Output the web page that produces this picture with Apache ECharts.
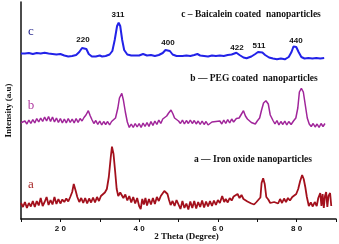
<!DOCTYPE html>
<html>
<head>
<meta charset="utf-8">
<script src="https://cdn.jsdelivr.net/npm/echarts@6/dist/echarts.min.js"></script>
<style>html,body{margin:0;padding:0;background:#fff}#chart{width:339px;height:244px}</style>
</head>
<body>
<div id="chart"></div>
<script>
// 2 Theta (degree) and intensity (a.u.)
const thetaC = [10,11,12,13,14,15,16,17,18,19,20,21,22,23,24,24.8,25.5,26,26.6,27.2,28,29,30,30.6,31.5,32.5,33.2,33.8,34.4,34.8,35.2,35.7,36.2,37,38,39,40,41,42,43,44,45,46,46.7,47.2,47.8,48.5,49.5,50,51,52,53,54,54.8,55.5,56.5,57.5,58.5,59.5,60.5,61.5,62.5,63.5,64.7,65.5,66.5,67.3,68.5,69.5,70.2,70.7,71.3,72,73,74,75,76,77,78,78.7,79.2,79.5,79.9,80.5,81.2,82,83,84,85,86,87];
const intensityC = [165.5,165.5,166,165,166,165.5,166.2,165.5,165,164.5,165,163.5,162.5,163,164,167,171,171.7,170,165,162.5,162.5,163.5,162.5,163,164.5,168,179,193,196.3,193,179,169,164.5,163.5,163.5,163.5,165,163.5,164,163,164,166,169,169.7,168,164.5,163,163,163,163.5,163,164,165,163.5,163,162.5,163.5,163,163.5,163,164,164.5,166.3,164,161.5,160.7,162.5,165,167,167.7,166.5,164,161.5,160.5,159.7,160.5,159.7,162,167,172.5,173,172,167,162,160.5,161,160.5,161,160.5,161];

const thetaB = [10,10.5,11,11.5,12,12.5,13,13.5,14,14.5,15,15.5,16,16.5,17,17.5,18,18.5,19,19.5,20,20.5,21,21.5,22,22.5,23,23.5,24,24.5,25,25.5,26,26.5,27.1,27.6,28,28.5,29,29.5,30,30.5,31,31.5,32,32.5,33,33.5,34,34.6,35,35.6,36,36.5,37,37.5,38,38.5,39,39.5,40,40.5,41,41.5,42,42.5,43,43.5,44,44.5,45,45.5,46,46.5,47,47.5,48.1,48.6,49,49.5,50,50.5,51,51.5,52,52.5,53,53.5,54,54.5,55,55.5,56,56.5,57,57.5,58,58.5,59,59.5,60,60.5,61,61.5,62,62.5,63,63.5,64,64.7,65.4,66,66.5,67,67.5,68,68.5,69,69.5,70,70.6,71.1,71.6,72.2,72.8,73.3,74,74.5,75,75.5,76,76.5,77,77.5,78,78.6,79.2,79.8,80.3,80.7,81.2,81.7,82.2,82.7,83.2,83.7,84.2,84.7,85.2,85.7,86.2,86.7,87.2];
const intensityB = [96.3,94.5,98,95,99,95.5,99.5,96,100.5,97,101,97.5,102,98,102.5,97.5,102,97,101,96.5,100.5,96,100,96,100.5,96.5,100,96,100.5,96.5,100.5,98,101.5,104,108.3,103,99.5,95.5,98.5,94.5,98,94,97.5,94.5,97.5,94,97.5,96.5,101,111,121,125.7,119,107,97,91.5,95,91.5,95.5,92,95.5,91.5,96,92.5,96.5,92.5,97.5,93.5,98,94.5,99,95.5,100,101,103,106,109,105,101,99,98,95.5,99,95,98.5,95.5,99,95.5,98.5,95,98,94.5,98,94.5,97.5,94,93.5,97,95,97.5,95.5,98,95,99,95.5,99.5,96,100,97,100.5,101,105,108.3,103,100,98.5,96.5,97.5,95,98,101,109,116,118.3,115,104,98.5,95,98.5,94,97.5,94.5,98,94,97.5,94.5,98,101,111,127,130.7,127,114,101,95,92.5,95.5,92,95,91.5,95.5,92.5,95.5,92.5,95.5];

const thetaA = [10,10.5,11,11.5,12,12.5,13,13.5,14,14.5,15,15.5,16,16.5,17,17.5,18,18.5,19,19.5,20,20.5,21,21.5,22,22.5,23,23.4,23.9,24.3,24.8,25.3,25.8,26.3,26.8,27.3,27.8,28.3,28.8,29.3,29.8,30.3,30.8,31.3,31.8,32.3,32.8,33.1,33.5,33.9,34.3,34.7,35.2,35.6,36,36.5,37,37.5,38,38.5,39,39.5,40,40.4,40.8,41.2,41.6,42,42.5,43,43.5,44,44.5,45,45.5,46,46.4,46.8,47.2,47.6,48,48.5,49,49.5,50,50.5,51,51.5,52,52.5,53,53.5,54,54.5,55,55.5,56,56.5,57,57.5,58,58.5,59,59.5,60,60.5,61.1,61.6,62,62.5,63,63.5,64,64.5,65,65.5,66,66.5,67,67.5,68,68.5,69.2,69.8,70.3,70.8,71.1,71.5,71.9,72.3,72.8,73.3,73.8,74.3,74.8,75.3,75.8,76.3,76.8,77.3,77.8,78.3,78.9,79.4,79.9,80.4,80.9,81.4,81.8,82.2,82.6,83.1,83.6,84.1,84.6,85.1,85.5,86,86.3,86.6,86.9,87.2,87.5,87.8,88.1,88.5,88.8];
const intensityA = [16,12,17,11,16,12.5,18,12,18,13.5,21,13,17,22,14,19,14.5,22,15,20,15.5,19.5,17,20.5,17.5,22,27,35,28,22,17,21,16,21,15.5,20.5,16.5,21.5,16.5,22,18,23,25,26.5,30,42,62,72.3,65,48,30,23,26.5,28,21,24.5,18.5,23,16.5,22,15.5,21,13,10,20,14.5,21,13.5,20,14.5,21,15,22,18,23,24,28,30,25,19,14,18,13,19,17,10,18,11,15.5,9.5,17.5,11,18,10.5,17,12,18.5,11.5,17.5,12.5,18,13,18.5,14,19,16,23,17,20,16.5,21,18.5,22.5,21,25,21,24,20,21,17.5,18.5,15.5,14.5,17,16,21.5,36,40.7,35,22,19.5,16,14.5,17,19,15.5,20,16,20.5,17,21,18.5,22,22,25,30,38,44,40,32,22,13,16.5,12.5,17,13,21,26,13,25,11,23,27,12,23,26,13];

const xTickLabels = [20, 40, 60, 80];

function pairs(xs, ys) { return xs.map((x, i) => [x, ys[i]]); }

const chart = echarts.init(document.getElementById('chart'), null, {renderer: 'canvas'});
const serifBold = {fontFamily: 'Liberation Serif', fontWeight: 'bold', fontSize: 9.5, fill: '#111', textAlign: 'center', textVerticalAlign: 'middle'};
const peakStyle = {fontFamily: 'Liberation Sans', fontWeight: 'bold', fontSize: 8, fill: '#111', textAlign: 'center', textVerticalAlign: 'middle'};
const letterStyle = {fontFamily: 'Liberation Serif', fontSize: 13, textAlign: 'center', textVerticalAlign: 'middle'};
function txt(x, y, text, style, extra) {
  return {type: 'text', x: x, y: y, style: Object.assign({text: text}, style, extra || {})};
}
chart.setOption({
  animation: false,
  backgroundColor: '#fff',
  grid: {left: 21, right: 3, top: 2, bottom: 25, outerBoundsMode: 'none', containLabel: false},
  xAxis: {
    type: 'value', min: 10, max: 90, interval: 10,
    name: '2 Theta (Degree)', nameLocation: 'middle', nameGap: 13, nameMoveOverlap: false,
    nameTextStyle: {fontFamily: 'Liberation Serif', fontWeight: 'bold', fontSize: 9, color: '#111', padding: [0, 0, 0, 16]},
    axisLine: {lineStyle: {color: '#111', width: 1.5}},
    axisTick: {show: true, length: 3, lineStyle: {color: '#111', width: 1}},
    axisLabel: {
      margin: 6, fontFamily: 'Liberation Sans', fontWeight: 'bold', fontSize: 8, color: '#111',
      formatter: v => xTickLabels.indexOf(v) >= 0 ? String(v).split('').join(' ') : ''
    },
    splitLine: {show: false}
  },
  yAxis: {
    type: 'value', min: 0, max: 217,
    name: 'Intensity (a.u)', nameLocation: 'middle', nameGap: 8, nameMoveOverlap: false,
    nameTextStyle: {fontFamily: 'Liberation Serif', fontWeight: 'bold', fontSize: 9, color: '#111'},
    axisLine: {show: true, lineStyle: {color: '#111', width: 1.5}},
    axisTick: {show: false}, axisLabel: {show: false}, splitLine: {show: false}
  },
  series: [
    {type: 'line', data: pairs(thetaC, intensityC), showSymbol: false, lineStyle: {color: '#2222e8', width: 2}},
    {type: 'line', data: pairs(thetaB, intensityB), showSymbol: false, lineStyle: {color: '#a0259a', width: 1.5}},
    {type: 'line', data: pairs(thetaA, intensityA), showSymbol: false, lineStyle: {color: '#a3101c', width: 1.8}}
  ],
  graphic: [
    txt(31, 32, 'c', letterStyle, {fill: '#2a2a90'}),
    txt(31, 106, 'b', letterStyle, {fill: '#b03aa0'}),
    txt(31, 185, 'a', letterStyle, {fill: '#a82828'}),
    txt(251, 15, 'c – Baicalein coated  nanoparticles', serifBold),
    txt(254, 79, 'b — PEG coated  nanoparticles', serifBold),
    txt(253, 160, 'a — Iron oxide nanoparticles', serifBold),
    txt(83, 40, '220', peakStyle),
    txt(118, 15, '311', peakStyle),
    txt(168, 43, '400', peakStyle),
    txt(237, 48, '422', peakStyle),
    txt(259, 46, '511', peakStyle),
    txt(296, 41, '440', peakStyle)
  ]
});
</script>
</body>
</html>
